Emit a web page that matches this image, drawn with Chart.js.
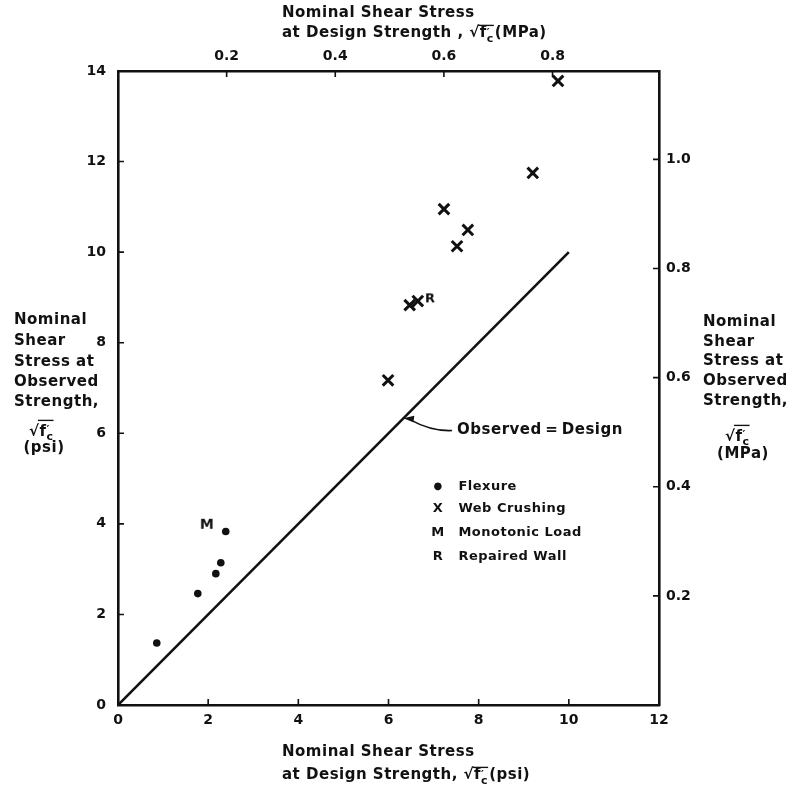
<!DOCTYPE html>
<html>
<head>
<meta charset="utf-8">
<script src="https://cdn.jsdelivr.net/npm/chart.js@4.4.0/dist/chart.umd.min.js"></script>
<style>
  html, body { margin: 0; padding: 0; background: #fff; }
  #wrap { width: 799px; height: 794px; }
</style>
</head>
<body>
<div id="wrap"><canvas id="chart" width="799" height="794"></canvas></div>
<script>
// ---- DATA (nominal shear stress in sqrt(f'c) units, psi) ----
const flexureX = [0.86, 1.77, 2.17, 2.28, 2.39];
const flexureY = [1.37, 2.46, 2.90, 3.14, 3.83];
const crushingX = [5.99, 6.47, 6.65, 7.23, 7.52, 7.76, 9.20, 9.76];
const crushingY = [7.17, 8.83, 8.92, 10.95, 10.13, 10.49, 11.75, 13.78];
const monotonicX = [1.97];
const monotonicY = [3.98];
const repairedX = [6.92];
const repairedY = [8.98];
const equalityX = [0, 10];
const equalityY = [0, 10];

const psiTicksX = [0, 2, 4, 6, 8, 10, 12];
const psiTicksY = [0, 2, 4, 6, 8, 10, 12, 14];
const mpaTicks = [0.2, 0.4, 0.6, 0.8, 1.0];
const MPA_PER_PSI = 0.083; // sqrt(f'c) psi -> sqrt(f'c) MPa

const legendLabels = ["Flexure", "Web Crushing", "Monotonic Load", "Repaired Wall"];
const legendSymbols = ["\u25CF", "X", "M", "R"];

const FONT = "'DejaVu Sans', sans-serif";
const INK = "#111";

function toPoints(xs, ys) {
  return xs.map((x, i) => ({ x: x, y: ys[i] }));
}

// letter markers (M, R) drawn as small canvases
function letterMarker(ch, size) {
  const c = document.createElement("canvas");
  c.width = 16; c.height = 16;
  const g = c.getContext("2d");
  g.fillStyle = INK;
  g.font = "bold " + size + "px " + FONT;
  g.textAlign = "center";
  g.textBaseline = "middle";
  g.fillText(ch, 8, 8.5);
  return c;
}

// draws sqrt(f'c) with the c as subscript, returns width
function drawRootFc(ctx, x, y, size) {
  ctx.font = "bold " + size + "px " + FONT;
  const wr = ctx.measureText("\u221A").width;
  ctx.fillText("\u221A", x, y);
  let cx = x + wr;
  const wf = ctx.measureText("f").width;
  ctx.fillText("f", cx, y);
  cx += wf;
  ctx.font = "bold " + Math.round(size * 0.7) + "px " + FONT;
  ctx.fillText("\u2032", cx, y - size * 0.12);
  ctx.fillText("c", cx, y + size * 0.32);
  cx += ctx.measureText("c").width;
  ctx.lineWidth = size * 0.09;
  ctx.beginPath();
  ctx.moveTo(x + wr * 0.85, y - size * 0.8);
  ctx.lineTo(cx, y - size * 0.8);
  ctx.stroke();
  ctx.font = "bold " + size + "px " + FONT;
  return cx - x;
}

function drawTitleLine2(ctx, x, yc, size, pre, unit) {
  ctx.font = "bold " + size + "px " + FONT;
  ctx.textAlign = "left";
  ctx.textBaseline = "alphabetic";
  const base = yc + size * 0.36;
  ctx.fillText(pre, x, base);
  let cx = x + ctx.measureText(pre).width;
  cx += drawRootFc(ctx, cx, base, size);
  ctx.fillText(unit, cx + 1, base);
}

// ---- inside tick marks ----
const insideTicks = {
  id: "insideTicks",
  afterDatasetsDraw(chart) {
    const { ctx, chartArea: a, scales } = chart;
    const len = 6;
    ctx.save();
    ctx.strokeStyle = INK;
    ctx.lineWidth = 1.6;
    ctx.beginPath();
    scales.x.ticks.forEach(t => {
      if (t.value <= 0 || t.value >= 12) return;
      const p = scales.x.getPixelForValue(t.value);
      ctx.moveTo(p, a.bottom); ctx.lineTo(p, a.bottom - len);
    });
    scales.y.ticks.forEach(t => {
      if (t.value <= 0 || t.value >= 14) return;
      const p = scales.y.getPixelForValue(t.value);
      ctx.moveTo(a.left, p); ctx.lineTo(a.left + len, p);
    });
    scales.x2.ticks.forEach(t => {
      const p = scales.x2.getPixelForValue(t.value);
      ctx.moveTo(p, a.top); ctx.lineTo(p, a.top + len);
    });
    scales.y2.ticks.forEach(t => {
      const p = scales.y2.getPixelForValue(t.value);
      ctx.moveTo(a.right, p); ctx.lineTo(a.right - len, p);
    });
    ctx.stroke();
    ctx.restore();
  }
};

// ---- titles, legend, annotation ----
const annotations = {
  id: "annotations",
  afterDraw(chart) {
    const { ctx, scales } = chart;
    const sx = scales.x, sy = scales.y;
    ctx.save();
    ctx.fillStyle = INK;
    ctx.strokeStyle = INK;
    ctx.letterSpacing = "0.5px";

    // top title
    ctx.font = "bold 15px " + FONT;
    ctx.textAlign = "left";
    ctx.textBaseline = "middle";
    ctx.fillText("Nominal Shear Stress", 282, 13);
    drawTitleLine2(ctx, 282, 32, 15, "at Design Strength , ", "(MPa)");

    // bottom title
    ctx.font = "bold 15px " + FONT;
    ctx.textBaseline = "middle";
    ctx.fillText("Nominal Shear Stress", 282, 752);
    drawTitleLine2(ctx, 282, 774, 15, "at Design Strength, ", "(psi)");

    // left title block
    const leftLines = ["Nominal", "Shear", "Stress at", "Observed", "Strength,"];
    const leftY = [320, 341, 362, 382, 402];
    ctx.font = "bold 15px " + FONT;
    ctx.textAlign = "left";
    ctx.textBaseline = "middle";
    leftLines.forEach((s, i) => ctx.fillText(s, 14, leftY[i]));
    drawRootFc(ctx, 29, 427 + 15 * 0.36, 15);
    ctx.textAlign = "center";
    ctx.textBaseline = "middle";
    ctx.fillText("(psi)", 44, 448);

    // right title block
    const rightLines = ["Nominal", "Shear", "Stress at", "Observed", "Strength,"];
    const rightY = [322, 342, 361, 381, 401];
    ctx.textAlign = "left";
    rightLines.forEach((s, i) => ctx.fillText(s, 703, rightY[i]));
    drawRootFc(ctx, 725, 432 + 15 * 0.36, 15);
    ctx.textAlign = "center";
    ctx.textBaseline = "middle";
    ctx.fillText("(MPa)", 743, 454);

    // equality annotation with arrow
    const tipX = sx.getPixelForValue(6.33), tipY = sy.getPixelForValue(6.33);
    const tailX = sx.getPixelForValue(7.41), tailY = sy.getPixelForValue(6.06);
    ctx.lineWidth = 1.6;
    ctx.beginPath();
    ctx.moveTo(tailX, tailY);
    ctx.quadraticCurveTo((tipX + tailX) / 2 + 4, tailY + 1, tipX + 6, tipY + 1);
    ctx.stroke();
    ctx.beginPath();
    ctx.moveTo(tipX, tipY);
    ctx.lineTo(tipX + 11, tipY - 2.5);
    ctx.lineTo(tipX + 10, tipY + 4);
    ctx.closePath();
    ctx.fill();
    ctx.font = "bold 15px " + FONT;
    ctx.textAlign = "left";
    ctx.textBaseline = "middle";
    ctx.fillText("Observed\u2009=\u2009Design", tailX + 5, tailY);

    // legend
    const symX = sx.getPixelForValue(7.1);
    const txtX = sx.getPixelForValue(7.55);
    const rowY = [4.82, 4.34, 3.81, 3.27];
    legendLabels.forEach((lab, i) => {
      const y = sy.getPixelForValue(rowY[i]);
      ctx.textAlign = "center";
      ctx.font = (i === 0 ? "bold 10px " : "bold 13px ") + FONT;
      ctx.fillText(legendSymbols[i], symX, y);
      ctx.textAlign = "left";
      ctx.font = "bold 13px " + FONT;
      ctx.fillText(lab, txtX, y);
    });
    ctx.restore();
  }
};

const tickFont = { family: FONT, size: 14, weight: "bold" };

function fixedTicks(values) {
  return function (scale) {
    scale.ticks = values.filter(v => v >= scale.min && v <= scale.max).map(v => ({ value: v }));
  };
}

new Chart(document.getElementById("chart"), {
  data: {
    datasets: [
      {
        type: "line",
        label: "Observed = Design",
        data: toPoints(equalityX, equalityY),
        borderColor: INK,
        borderWidth: 2.6,
        pointRadius: 0,
        xAxisID: "x", yAxisID: "y"
      },
      {
        type: "scatter",
        label: "Flexure",
        data: toPoints(flexureX, flexureY),
        pointStyle: "circle",
        pointRadius: 3.8,
        backgroundColor: INK,
        borderColor: INK,
        borderWidth: 0,
        xAxisID: "x", yAxisID: "y"
      },
      {
        type: "scatter",
        label: "Web Crushing",
        data: toPoints(crushingX, crushingY),
        pointStyle: "crossRot",
        pointRadius: 7.5,
        borderColor: INK,
        borderWidth: 3,
        clip: false,
        xAxisID: "x", yAxisID: "y"
      },
      {
        type: "scatter",
        label: "Monotonic Load",
        data: toPoints(monotonicX, monotonicY),
        pointStyle: letterMarker("M", 14),
        xAxisID: "x", yAxisID: "y"
      },
      {
        type: "scatter",
        label: "Repaired Wall",
        data: toPoints(repairedX, repairedY),
        pointStyle: letterMarker("R", 13),
        xAxisID: "x", yAxisID: "y"
      }
    ]
  },
  options: {
    responsive: false,
    animation: false,
    layout: { padding: 0 },
    plugins: {
      legend: { display: false },
      tooltip: { enabled: false }
    },
    scales: {
      x: {
        type: "linear", position: "bottom", min: 0, max: 12,
        afterBuildTicks: fixedTicks(psiTicksX),
        afterFit(s) { s.height = 89; },
        grid: { drawOnChartArea: false, drawTicks: false },
        border: { display: true, color: INK, width: 2.6 },
        ticks: { color: INK, font: tickFont, padding: 7, maxRotation: 0 }
      },
      y: {
        type: "linear", position: "left", min: 0, max: 14,
        afterBuildTicks: fixedTicks(psiTicksY),
        afterFit(s) { s.width = 118; },
        grid: { drawOnChartArea: false, drawTicks: false },
        border: { display: true, color: INK, width: 2.6 },
        ticks: { color: INK, font: tickFont, padding: 12 }
      },
      x2: {
        type: "linear", position: "top", min: 0, max: 12 * MPA_PER_PSI,
        afterBuildTicks: fixedTicks(mpaTicks),
        afterFit(s) { s.height = 71; },
        grid: { drawOnChartArea: false, drawTicks: false },
        border: { display: true, color: INK, width: 2.6 },
        ticks: { color: INK, font: tickFont, padding: 6, maxRotation: 0,
                 callback: v => v.toFixed(1) }
      },
      y2: {
        type: "linear", position: "right", min: 0, max: 14 * MPA_PER_PSI,
        afterBuildTicks: fixedTicks(mpaTicks),
        afterFit(s) { s.width = 140; },
        grid: { drawOnChartArea: false, drawTicks: false },
        border: { display: true, color: INK, width: 2.6 },
        ticks: { color: INK, font: tickFont, padding: 7,
                 callback: v => v.toFixed(1) }
      }
    }
  },
  plugins: [insideTicks, annotations]
});
</script>
</body>
</html>
